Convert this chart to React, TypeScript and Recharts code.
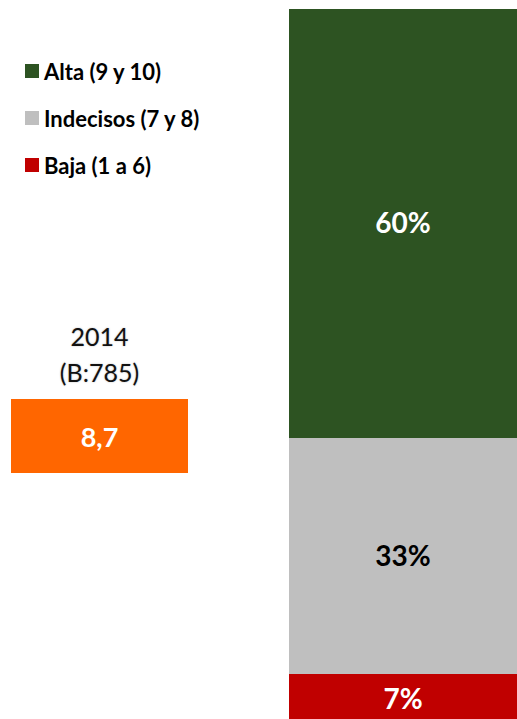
import React from "react";
import { BarChart, Bar, XAxis, YAxis, LabelList } from "recharts";

const categories = ["2014"];
const altaValues = [60];
const indecisosValues = [33];
const bajaValues = [7];
const seriesNames = ["Alta (9 y 10)", "Indecisos (7 y 8)", "Baja (1 a 6)"];
const seriesColors = ["#2D5322", "#BFBFBF", "#C00000"];
const yearLabel = "2014";
const baseLabel = "(B:785)";
const averageScore = "8,7";

const data = categories.map((c, i) => ({
  name: c,
  baja: bajaValues[i],
  indecisos: indecisosValues[i],
  alta: altaValues[i],
}));

const font = "Lato, 'Open Sans', sans-serif";
const pct = (v: any) => `${v}%`;

export default function App() {
  return (
    <div
      style={{
        position: "absolute",
        left: 0,
        top: 0,
        width: 517,
        height: 719,
        overflow: "hidden",
        background: "#fff",
        fontFamily: font,
      }}
    >
      <BarChart
        width={517}
        height={730}
        data={data}
        margin={{ top: 9, right: 0, bottom: 6, left: 289 }}
        barCategoryGap={0}
      >
        <XAxis dataKey="name" hide />
        <YAxis hide domain={[0, 100]} />
        <Bar dataKey="baja" stackId="a" fill={seriesColors[2]} isAnimationActive={false}>
          <LabelList dataKey="baja" position="center" formatter={pct} fill="#fff" fontSize={28} fontWeight={700} fontFamily={font} />
        </Bar>
        <Bar dataKey="indecisos" stackId="a" fill={seriesColors[1]} isAnimationActive={false}>
          <LabelList dataKey="indecisos" position="center" formatter={pct} fill="#000" fontSize={28} fontWeight={700} fontFamily={font} />
        </Bar>
        <Bar dataKey="alta" stackId="a" fill={seriesColors[0]} isAnimationActive={false}>
          <LabelList dataKey="alta" position="center" formatter={pct} fill="#fff" fontSize={28} fontWeight={700} fontFamily={font} />
        </Bar>
      </BarChart>

      {seriesNames.map((n, i) => (
        <div
          key={n}
          style={{
            position: "absolute",
            left: 25,
            top: 57 + i * 47,
            height: 28,
            display: "flex",
            alignItems: "center",
            fontSize: 22,
            fontWeight: 700,
            color: "#000",
          }}
        >
          <span style={{ width: 14, height: 14, background: seriesColors[i], marginRight: 5, display: "inline-block" }} />
          {n}
        </div>
      ))}

      <div
        style={{
          position: "absolute",
          left: 11,
          width: 177,
          top: 318,
          textAlign: "center",
          fontSize: 25,
          lineHeight: "36px",
          color: "#111",
          textShadow: "0 0 2px #bbb",
        }}
      >
        <div>{yearLabel}</div>
        <div>{baseLabel}</div>
      </div>

      <div
        style={{
          position: "absolute",
          left: 11,
          top: 399,
          width: 177,
          height: 74,
          background: "#FF6600",
          color: "#fff",
          fontSize: 27,
          fontWeight: 700,
          display: "flex",
          alignItems: "center",
          justifyContent: "center",
        }}
      >
        {averageScore}
      </div>
    </div>
  );
}
